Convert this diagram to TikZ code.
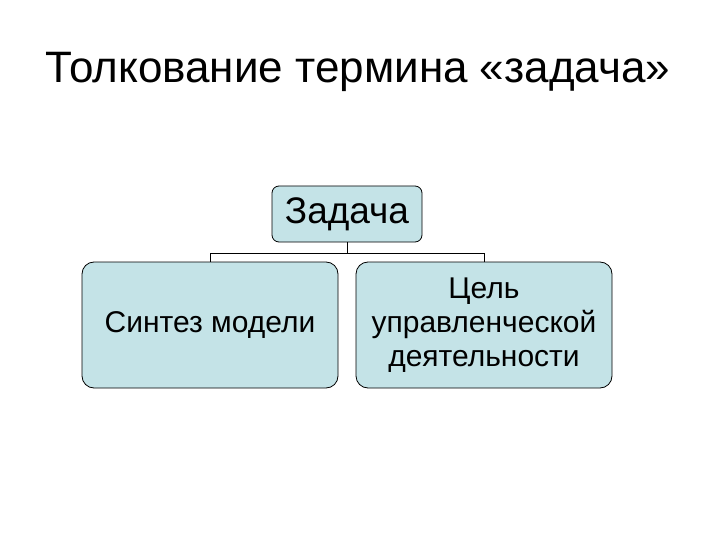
\documentclass[tikz,border=0pt]{standalone}
\usepackage{fontspec}
\setmainfont{Liberation Sans}
\definecolor{boxfill}{HTML}{C4E3E7}
\begin{document}
\begin{tikzpicture}[x=1pt,y=-1pt,
  box/.style={draw=black,fill=boxfill,rounded corners=12pt,line width=0.8pt,align=center,inner sep=0pt}]
\useasboundingbox (0,0) rectangle (720,540);
\node[font=\fontsize{44}{52}\selectfont] (title) at (358,72) {Толкование термина «задача»};
\node[box,rounded corners=7pt,minimum width=150pt,minimum height=56pt,font=\fontsize{37}{44}\selectfont] (top) at (347,214) {Задача};
\node[box,minimum width=256pt,minimum height=126pt,font=\fontsize{30}{34}\selectfont] (left) at (210,325) {Синтез модели};
\node[box,minimum width=256pt,minimum height=126pt,font=\fontsize{30}{34}\selectfont] (right) at (484,325) {Цель\\управленческой\\деятельности};
\coordinate (j) at (347,253);
\draw[line width=1pt] (top.south) -- (j);
\draw[line width=1pt] (left.north) -- (left.north |- j) -- (right.north |- j) -- (right.north);
\end{tikzpicture}
\end{document}
